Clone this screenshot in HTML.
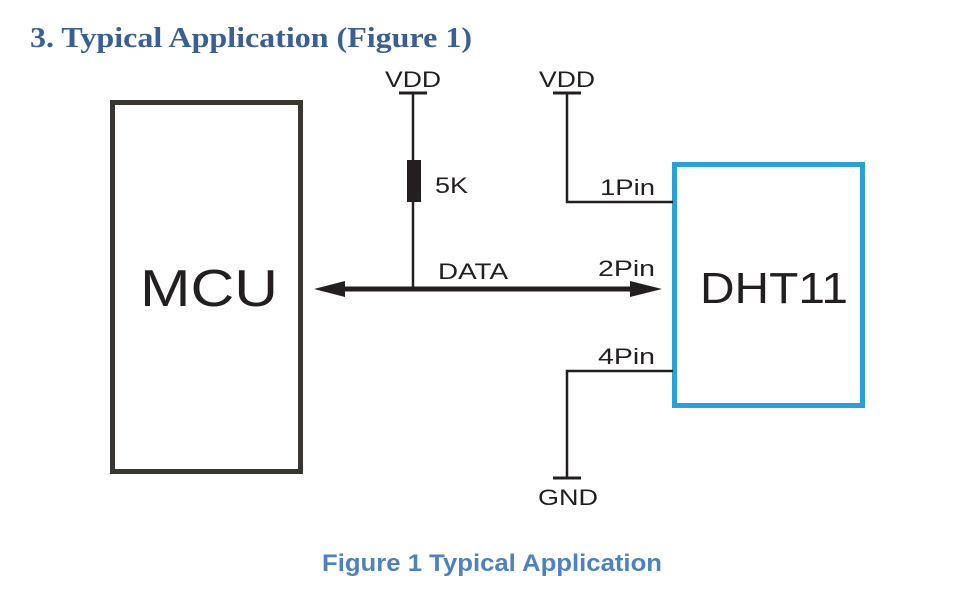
<!DOCTYPE html>
<html><head><style>
body{margin:0;background:#fff;width:969px;height:594px;overflow:hidden}
</style></head><body>
<svg width="969" height="594" xmlns="http://www.w3.org/2000/svg">
<text x="30" y="47" font-family="Liberation Serif, serif" font-weight="bold" font-size="28" fill="#3a5f94" textLength="442" lengthAdjust="spacingAndGlyphs">3. Typical Application (Figure 1)</text>
<rect x="112.5" y="102.5" width="188" height="369" fill="none" stroke="#3a3733" stroke-width="5"/>
<text x="140" y="306" font-family="Liberation Sans, sans-serif" font-size="52" fill="#231f20" textLength="138" lengthAdjust="spacingAndGlyphs">MCU</text>
<rect x="674.5" y="164.5" width="188" height="241" fill="none" stroke="#2aa0d8" stroke-width="5"/>
<text x="700" y="303" font-family="Liberation Sans, sans-serif" font-size="44" fill="#231f20" textLength="148" lengthAdjust="spacingAndGlyphs">DHT11</text>
<g stroke="#231f20" fill="none">
<line x1="399" y1="93" x2="427" y2="93" stroke-width="3"/>
<line x1="413" y1="93" x2="413" y2="289" stroke-width="2.5"/>
<line x1="553" y1="93" x2="581" y2="93" stroke-width="3"/>
<polyline points="567,93 567,202 673,202" stroke-width="2.5"/>
<polyline points="673,371 567,371 567,478" stroke-width="2.5"/>
<line x1="553" y1="478" x2="581" y2="478" stroke-width="3"/>
<line x1="335" y1="289" x2="640" y2="289" stroke-width="5"/>
</g>
<rect x="407" y="160" width="14" height="42" fill="#231f20"/>
<polygon points="314,289 345,281 345,297" fill="#231f20"/>
<polygon points="662,289 630,281 630,297" fill="#231f20"/>
<g font-family="Liberation Sans, sans-serif" font-size="22" fill="#231f20" lengthAdjust="spacingAndGlyphs">
<text x="385" y="87" textLength="56" lengthAdjust="spacingAndGlyphs">VDD</text>
<text x="539" y="87" textLength="56" lengthAdjust="spacingAndGlyphs">VDD</text>
<text x="435" y="193" textLength="33" lengthAdjust="spacingAndGlyphs">5K</text>
<text x="600" y="195" textLength="55" lengthAdjust="spacingAndGlyphs">1Pin</text>
<text x="438" y="279" textLength="70" lengthAdjust="spacingAndGlyphs">DATA</text>
<text x="598" y="276" textLength="57" lengthAdjust="spacingAndGlyphs">2Pin</text>
<text x="598" y="364" textLength="57" lengthAdjust="spacingAndGlyphs">4Pin</text>
<text x="538" y="505" textLength="60" lengthAdjust="spacingAndGlyphs">GND</text>
</g>
<text x="322" y="571" font-family="Liberation Sans, sans-serif" font-weight="bold" font-size="24" fill="#4f81bd" textLength="340" lengthAdjust="spacingAndGlyphs">Figure 1 Typical Application</text>
</svg>
</body></html>
